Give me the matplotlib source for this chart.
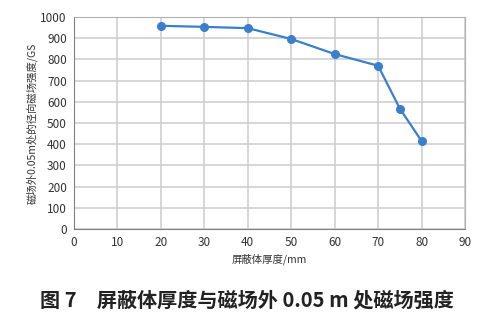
import matplotlib
matplotlib.use("Agg")
import matplotlib.pyplot as plt

# 屏蔽体厚度 / mm 与 磁场强度 / GS
thickness = [20, 30, 40, 50, 60, 70, 75, 80]
field = [958, 953, 947, 896, 825, 770, 568, 415]

plt.rcParams['font.family'] = ['Noto Sans CJK SC', 'DejaVu Sans']

fig = plt.figure(figsize=(4.89, 3.25), dpi=100)
ax = fig.add_axes([0.151, 0.295, 0.800, 0.653])

ax.plot(thickness, field, color="#3b7fcc", lw=1.6, marker="o", ms=5.5, zorder=3)

ax.set_xlim(0, 90)
ax.set_ylim(0, 1000)
ax.set_xticks(range(0, 91, 10))
ax.set_yticks(range(0, 1001, 100))
ax.grid(color="#cccccc", lw=1.1)
ax.set_axisbelow(True)
for s in ax.spines.values():
    s.set_color("#b0b0b0")
ax.spines["left"].set_color("#808080")
ax.spines["bottom"].set_color("#808080")
ax.tick_params(length=0, labelsize=8.5, colors="#333333", pad=5)

ax.set_xlabel("屏蔽体厚度/mm", fontsize=7.5, color="#333333", labelpad=3)
ax.set_ylabel("磁场外0.05m处的径向磁场强度/GS", fontsize=7.5, color="#333333", labelpad=2)

fig.text(0.505, 0.077, "图 7　屏蔽体厚度与磁场外 0.05 m 处磁场强度",
         ha="center", va="center", fontsize=14.5, fontweight="bold", color="#222222")

fig.savefig("out.png", dpi=100)
